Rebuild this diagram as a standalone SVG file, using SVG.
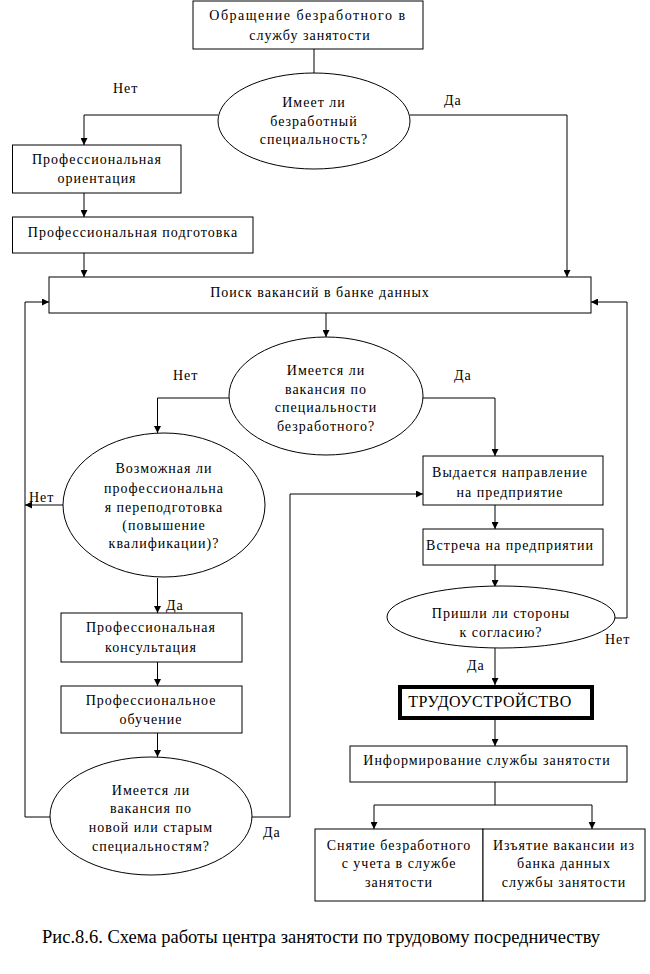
<svg xmlns="http://www.w3.org/2000/svg" width="650" height="974" viewBox="0 0 650 974">
<defs>
<marker id="ah" viewBox="0 0 10 10" refX="10" refY="5" markerWidth="7" markerHeight="7" markerUnits="userSpaceOnUse" orient="auto">
<path d="M0,0 L10,5 L0,10 Z" fill="#000"/>
</marker>
<style>
.b{fill:#fff;stroke:#000;stroke-width:1}
.t{font-family:'Liberation Serif','Times New Roman',Times,'DejaVu Serif',serif;font-size:14px;letter-spacing:1px;fill:#000;text-anchor:middle}
.l{font-family:'Liberation Serif','Times New Roman',Times,'DejaVu Serif',serif;font-size:14px;letter-spacing:1px;fill:#000}
.c{fill:none;stroke:#000;stroke-width:1}
.a{marker-end:url(#ah)}
</style>
</defs>
<rect width="650" height="974" fill="#fff"/>
<g id="connectors">
<path class="c" d="M314,49 V73"/>
<path class="c a" d="M218,115 H84 V145"/>
<path class="c a" d="M410,115 H567 V277"/>
<path class="c a" d="M84,193 V217"/>
<path class="c a" d="M84,253 V277"/>
<path class="c a" d="M326,313 V337"/>
<path class="c a" d="M229,398 H157.5 V433"/>
<path class="c a" d="M423,398 H495 V456"/>
<path class="c a" d="M63,505 H25"/>
<path class="c a" d="M50,817 H25 V302 H49"/>
<path class="c a" d="M157.5,578 V613"/>
<path class="c a" d="M157.5,662 V686"/>
<path class="c a" d="M157.5,733 V757"/>
<path class="c a" d="M252,817 H290 V494 H423"/>
<path class="c a" d="M495,505 V529"/>
<path class="c a" d="M495,565 V587"/>
<path class="c a" d="M615,618 H627 V302 H591"/>
<path class="c a" d="M495,648 V685"/>
<path class="c a" d="M495,720 V746"/>
<path class="c" d="M495,782 V805 M374,805 H592"/>
<path class="c a" d="M374,805 V829"/>
<path class="c a" d="M592,805 V829"/>
<text class="l" x="113" y="93">Нет</text>
<text class="l" x="444" y="105">Да</text>
<text class="l" x="173" y="380">Нет</text>
<text class="l" x="454" y="380">Да</text>
<text class="l" x="29" y="502">Нет</text>
<text class="l" x="166" y="610">Да</text>
<text class="l" x="263" y="837">Да</text>
<text class="l" x="605" y="644">Нет</text>
<text class="l" x="467" y="670">Да</text>
</g>
<g id="n1"><rect class="b" x="193" y="1" width="230" height="48"/>
<text class="t" x="308" y="20" style="letter-spacing:1.5px">Обращение безработного в</text><text class="t" x="310" y="40">службу занятости</text></g>
<g id="n2"><ellipse class="b" cx="314" cy="121" rx="96" ry="48"/>
<text class="t" x="314" y="107">Имеет ли</text><text class="t" x="314" y="126">безработный</text><text class="t" x="314" y="144">специальность?</text></g>
<g id="n3"><rect class="b" x="12.5" y="145" width="168.5" height="48"/>
<text class="t" x="97" y="164">Профессиональная</text><text class="t" x="97" y="183">ориентация</text></g>
<g id="n4"><rect class="b" x="12.5" y="217" width="240.5" height="36"/>
<text class="t" x="133" y="237">Профессиональная подготовка</text></g>
<g id="n5"><rect class="b" x="49" y="277" width="542" height="36"/>
<text class="t" x="320" y="297">Поиск вакансий в банке данных</text></g>
<g id="n6"><ellipse class="b" cx="326" cy="396" rx="97" ry="59"/>
<text class="t" x="326" y="375">Имеется ли</text><text class="t" x="326" y="394">вакансия по</text><text class="t" x="326" y="412">специальности</text><text class="t" x="326" y="431">безработного?</text></g>
<g id="n7"><ellipse class="b" cx="164" cy="505" rx="101" ry="72"/>
<text class="t" x="164" y="473">Возможная ли</text><text class="t" x="164" y="493">профессиональна</text><text class="t" x="164" y="512">я переподготовка</text><text class="t" x="164" y="530">(повышение</text><text class="t" x="164" y="548">квалификации)?</text></g>
<g id="n8"><rect class="b" x="61" y="613" width="181" height="49"/>
<text class="t" x="151" y="632">Профессиональная</text><text class="t" x="151" y="652">консультация</text></g>
<g id="n9"><rect class="b" x="61" y="686" width="181" height="47"/>
<text class="t" x="151" y="705">Профессиональное</text><text class="t" x="151" y="724">обучение</text></g>
<g id="n10"><ellipse class="b" cx="151" cy="816" rx="101" ry="59"/>
<text class="t" x="151" y="795">Имеется ли</text><text class="t" x="151" y="813">вакансия по</text><text class="t" x="151" y="832">новой или старым</text><text class="t" x="151" y="851">специальностям?</text></g>
<g id="n11"><rect class="b" x="423" y="456" width="180" height="49"/>
<text class="t" x="510" y="477">Выдается направление</text><text class="t" x="510" y="497">на предприятие</text></g>
<g id="n12"><rect class="b" x="423" y="529" width="180" height="36"/>
<text class="t" x="510" y="550">Встреча на предприятии</text></g>
<g id="n13"><ellipse class="b" cx="501" cy="617" rx="114" ry="31"/>
<text class="t" x="501" y="618">Пришли ли стороны</text><text class="t" x="501" y="637">к согласию?</text></g>
<g id="n14"><rect x="400" y="687" width="192" height="31" fill="#fff" stroke="#000" stroke-width="4"/>
<text class="t" x="490" y="707" style="font-size:16px;letter-spacing:0.5px">ТРУДОУСТРОЙСТВО</text></g>
<g id="n15"><rect class="b" x="350" y="746" width="277" height="36"/>
<text class="t" x="487" y="765">Информирование службы занятости</text></g>
<g id="n16"><rect class="b" x="315" y="829" width="168" height="72"/>
<text class="t" x="399" y="850">Снятие безработного</text><text class="t" x="399" y="868">с учета в службе</text><text class="t" x="399" y="887">занятости</text></g>
<g id="n17"><rect class="b" x="483" y="829" width="162" height="72"/>
<text class="t" x="564" y="850">Изъятие вакансии из</text><text class="t" x="564" y="868">банка данных</text><text class="t" x="564" y="887">службы занятости</text></g>
<text x="321" y="943" font-family="'Liberation Serif','Times New Roman',serif" font-size="18" text-anchor="middle" textLength="558" lengthAdjust="spacingAndGlyphs">Рис.8.6. Схема работы центра занятости по трудовому посредничеству</text>
</svg>
